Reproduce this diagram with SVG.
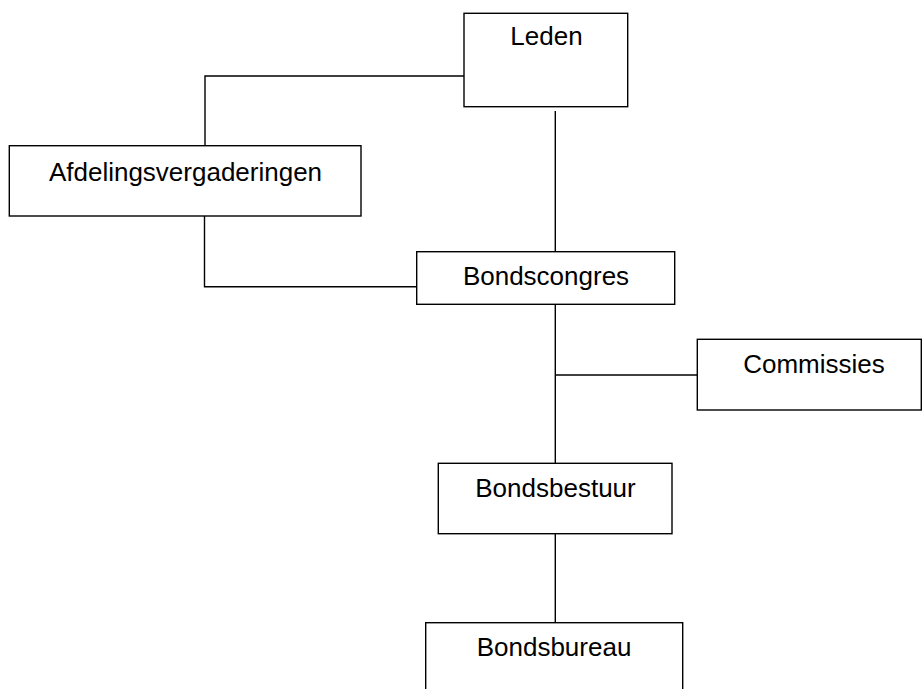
<svg xmlns="http://www.w3.org/2000/svg" width="922" height="689" viewBox="0 0 922 689">
<style>
rect{fill:#fff;stroke:#000;stroke-width:1.4}
.c line,.c polyline{fill:none;stroke:#000;stroke-width:1.4}
text{font-family:"Liberation Sans",Arial,sans-serif;font-size:26px;fill:#000;text-anchor:middle}
</style>
<rect x="0" y="0" width="922" height="689" style="stroke:none"/>
<g class="c" id="connectors">
<polyline points="464,76 205,76 205,146"/>
<line x1="555.3" y1="111" x2="555.3" y2="252"/>
<polyline points="204.5,216 204.5,286.7 416.7,286.7"/>
<line x1="555.3" y1="304" x2="555.3" y2="463.3"/>
<line x1="555.3" y1="375" x2="697.3" y2="375"/>
<line x1="555.3" y1="533.7" x2="555.3" y2="622.7"/>
</g>
<g id="leden"><rect x="464" y="13.3" width="163.7" height="93.4"/><text x="546.5" y="45">Leden</text></g>
<g id="afdelingsvergaderingen"><rect x="9.3" y="145.7" width="351.7" height="70.3"/><text x="185.5" y="180.7">Afdelingsvergaderingen</text></g>
<g id="bondscongres"><rect x="416.7" y="251.7" width="258" height="52.6"/><text x="546" y="285">Bondscongres</text></g>
<g id="commissies"><rect x="697.3" y="339.3" width="224" height="70.7"/><text x="814" y="373">Commissies</text></g>
<g id="bondsbestuur"><rect x="438.3" y="463.3" width="233.7" height="70.4"/><text x="555.5" y="497.3">Bondsbestuur</text></g>
<g id="bondsbureau"><rect x="425.7" y="622.7" width="257" height="80"/><text x="554" y="656">Bondsbureau</text></g>
</svg>
